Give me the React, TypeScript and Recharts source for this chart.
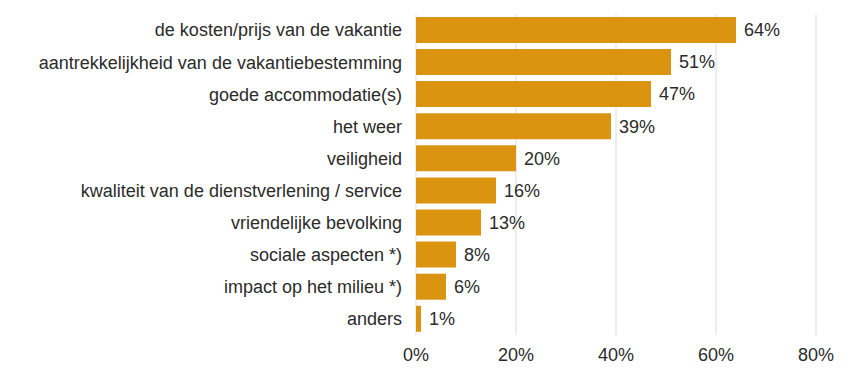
import { BarChart, Bar, XAxis, YAxis, CartesianGrid, LabelList } from 'recharts';

const categories = [
  'de kosten/prijs van de vakantie',
  'aantrekkelijkheid van de vakantiebestemming',
  'goede accommodatie(s)',
  'het weer',
  'veiligheid',
  'kwaliteit van de dienstverlening / service',
  'vriendelijke bevolking',
  'sociale aspecten *)',
  'impact op het milieu *)',
  'anders',
];
const values = [64, 51, 47, 39, 20, 16, 13, 8, 6, 1];
const xTicks = [0, 20, 40, 60, 80];

const data = categories.map((name, i) => ({ name, value: values[i] }));

const font = '"Liberation Sans", Arial, sans-serif';
const textColor = '#2b2b2b';

export default function App() {
  return (
    <div style={{ position: 'absolute', left: 0, top: 0, width: 850, height: 379, background: '#fff' }}>
      <BarChart
        width={850}
        height={379}
        data={data}
        layout="vertical"
        margin={{ top: 14, right: 34, left: 0, bottom: 14 }}
        barCategoryGap="9%"
      >
        <CartesianGrid horizontal={false} stroke="#dddddd" />
        <XAxis
          type="number"
          domain={[0, 80]}
          ticks={xTicks}
          tickFormatter={(v: number) => `${v}%`}
          axisLine={false}
          tickLine={false}
          tickSize={0}
          tickMargin={13}
          height={30}
          tick={{ fill: textColor, fontSize: 18, fontFamily: font }}
        />
        <YAxis
          type="category"
          dataKey="name"
          width={416}
          axisLine={false}
          tickLine={false}
          tickSize={0}
          tickMargin={14}
          interval={0}
          tick={{ fill: textColor, fontSize: 18, fontFamily: font }}
        />
        <Bar dataKey="value" fill="#DA9410" isAnimationActive={false}>
          <LabelList
            dataKey="value"
            position="right"
            offset={8}
            formatter={(v: number) => `${v}%`}
            style={{ fill: textColor, fontSize: 18, fontFamily: font }}
          />
        </Bar>
      </BarChart>
    </div>
  );
}
